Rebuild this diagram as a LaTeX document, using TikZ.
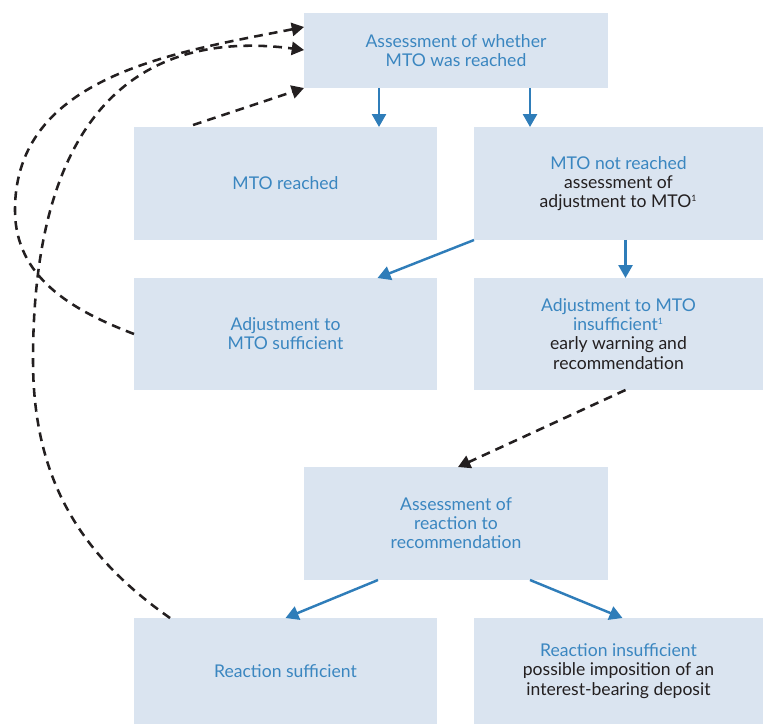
\documentclass[tikz,border=0pt]{standalone}
\usepackage{fontspec}
\setmainfont{Lato}
\definecolor{boxfill}{RGB}{218, 228, 240}
\definecolor{titleblue}{RGB}{58, 134, 192}
\definecolor{arrowblue}{RGB}{47, 125, 185}
\definecolor{textdark}{RGB}{35, 31, 32}
\usetikzlibrary{arrows.meta, calc}
\tikzset{
	box/.style={rectangle, fill=boxfill, draw=none, inner sep=0pt, outer sep=0pt, align=center, minimum width=6.06cm, minimum height=2.26cm, text=titleblue, font=\fontsize{10}{10.9}\selectfont},
	narrowbox/.style={box, minimum width=5.78cm},
	arrow/.style={-{Triangle[length=7.4pt, width=8pt]}, line width=1.4pt, draw=arrowblue},
	dasharrow/.style={-{Triangle[length=7pt, width=7.5pt]}, line width=1.45pt, draw=textdark, dash pattern=on 5pt off 3.5pt},
}

\begin{document}
\begin{tikzpicture}[x=0.02cm, y=-0.02cm]
		\useasboundingbox (0,0) rectangle (763,724);
		\node[box, minimum width=6.08cm, minimum height=1.5cm] (assess) at (456,50.5) {Assessment of whether\\MTO was reached};
		\node[box] (reached) at (285.5,183.5) {MTO reached};
		\node[narrowbox] (notreached) at (618.5,183.5) {MTO not reached\\{\color{textdark}assessment of}\\{\color{textdark}adjustment to MTO\textsuperscript{\tiny 1}}};
		\node[box, minimum height=2.24cm] (suff) at (285.5,334) {Adjustment to\\MTO sufficient};
		\node[narrowbox, minimum height=2.24cm] (insuff) at (618.5,334) {Adjustment to MTO\\insufficient\textsuperscript{\tiny 1}\\{\color{textdark}early warning and}\\{\color{textdark}recommendation}};
		\node[box, minimum width=6.08cm] (reaction) at (456,523.5) {Assessment of\\reaction to\\recommendation};
		\node[box, minimum height=2.12cm] (rsuff) at (285.5,671) {Reaction sufficient};
		\node[narrowbox, minimum height=2.12cm] (rinsuff) at (618.5,671) {Reaction insufficient\\{\color{textdark}possible imposition of an}\\{\color{textdark}interest-bearing deposit}};
		\coordinate (ab) at ($(assess.south)+(-77,0)$);
		\coordinate (ac) at ($(assess.south)+(74,0)$);
		\coordinate (ce) at ($(notreached.south)+(7,0)$);
		\draw[arrow] (ab) -- (ab |- reached.north);
		\draw[arrow] (ac) -- (ac |- notreached.north);
		\draw[arrow] (notreached.south west) -- ($(suff.north)+(92,0)$);
		\draw[arrow] (ce) -- (ce |- insuff.north);
		\draw[arrow] ($(reaction.south)+(-78,0)$) -- (rsuff.north);
		\draw[arrow] ($(reaction.south)+(74,0)$) -- ($(rinsuff.north)+(4,0)$);
		\draw[dasharrow] ($(insuff.south)+(7,0)$) -- ($(reaction.north)+(2,0)$);
		\draw[dasharrow] ($(reached.north west)+(59,-2)$) -- (assess.south west);
		\draw[dasharrow] (suff.west) to[out=159, in=-90] (15,210) to[out=90, in=191] ($(assess.north west)+(0,14)$);
		\draw[dasharrow] ($(rsuff.north west)+(36,0)$) to[out=145, in=-90] (33,360) .. controls (33,100) and (150,30) .. ($(assess.west)+(0,-0.5)$);
	\end{tikzpicture}
\end{document}
